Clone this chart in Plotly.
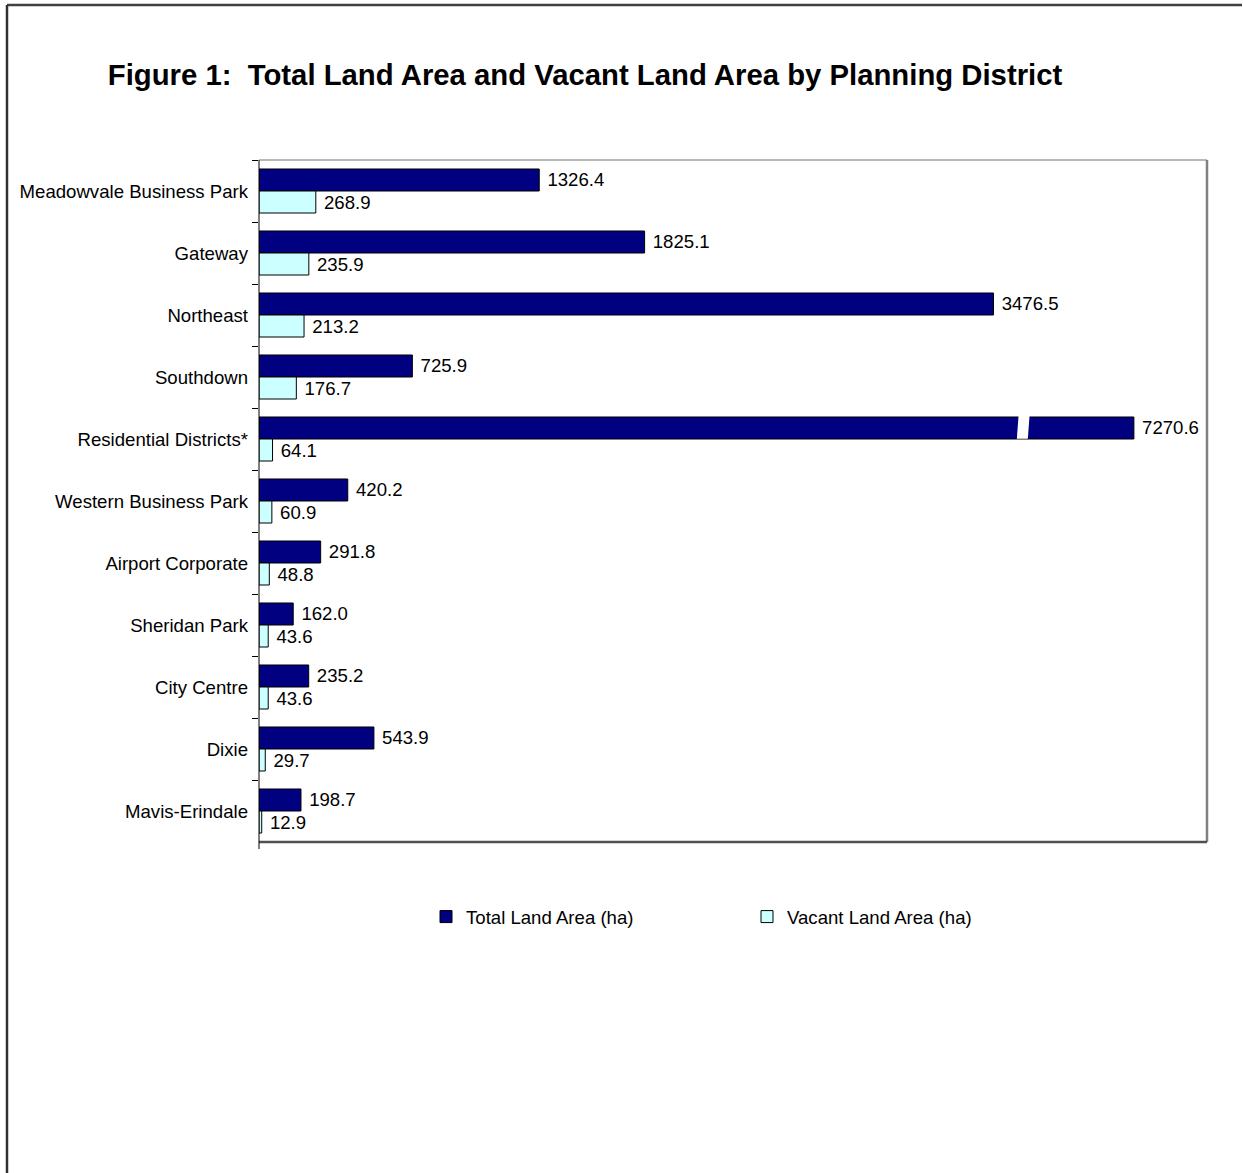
import plotly.graph_objects as go

# ---------------- data ----------------
categories = ["Meadowvale Business Park", "Gateway", "Northeast", "Southdown",
              "Residential Districts*", "Western Business Park", "Airport Corporate",
              "Sheridan Park", "City Centre", "Dixie", "Mavis-Erindale"]
total_land = [1326.4, 1825.1, 3476.5, 725.9, 7270.6, 420.2, 291.8, 162.0, 235.2, 543.9, 198.7]
vacant_land = [268.9, 235.9, 213.2, 176.7, 64.1, 60.9, 48.8, 43.6, 43.6, 29.7, 12.9]
series_names = ["Total Land Area (ha)", "Vacant Land Area (ha)"]
title_text = "Figure 1:  Total Land Area and Vacant Land Area by Planning District"

# ---------------- style / layout constants ----------------
W, H = 1243, 1173
PL, PR, PT, PB = 259, 1207, 160, 842      # plot area in pixels
X_MAX = 4487                               # axis range maximum
BREAK_CAP = 4141                           # bars longer than this are drawn broken
BREAK_OFFSET = 554                         # distance of the break gap from the cap
BREAK_GAP = 52
BREAK_SLANT = 9
FONT = "Liberation Sans, Arial, sans-serif"
FS = 18.6
NAVY = "#000080"
CYAN = "#CCFFFF"

total_display = [min(v, BREAK_CAP) for v in total_land]

def px_x(p):
    return (p - PL) / (PR - PL)

def px_y(p):
    return (PB - p) / (PB - PT)

fig = go.Figure()
fig.add_trace(go.Bar(
    y=categories, x=total_display, orientation="h", name=series_names[0],
    marker=dict(color=NAVY, line=dict(color="black", width=1)),
    text=[f" {v:.1f}" for v in total_land], textposition="outside",
    textfont=dict(size=FS, color="black", family=FONT), cliponaxis=False,
    constraintext="none", hoverinfo="skip"))
fig.add_trace(go.Bar(
    y=categories, x=vacant_land, orientation="h", name=series_names[1],
    marker=dict(color=CYAN, line=dict(color="black", width=1)),
    text=[f" {v:.1f}" for v in vacant_land], textposition="outside",
    textfont=dict(size=FS, color="black", family=FONT), cliponaxis=False,
    constraintext="none", hoverinfo="skip"))

shapes = []
# axis break on the long bar(s)
for i, v in enumerate(total_land):
    if v > BREAK_CAP:
        x0 = BREAK_CAP - BREAK_OFFSET
        yt, yb = i - 0.42, i - 0.005
        shapes.append(dict(
            type="path", xref="x", yref="y",
            path=f"M {x0 + BREAK_SLANT},{yt} L {x0 + BREAK_SLANT + BREAK_GAP},{yt} "
                 f"L {x0 + BREAK_GAP},{yb} L {x0},{yb} Z",
            fillcolor="white", line=dict(width=0), layer="above"))

# plot area frame
shapes += [
    dict(type="line", xref="paper", yref="paper", x0=0, x1=1, y0=1, y1=1,
         line=dict(color="#A0A0A0", width=1.5)),
    dict(type="line", xref="paper", yref="paper", x0=1, x1=1, y0=0, y1=1,
         line=dict(color="#808080", width=2.5)),
    dict(type="line", xref="paper", yref="paper", x0=0, x1=1, y0=0, y1=0,
         line=dict(color="#505050", width=2.5)),
    dict(type="line", xref="paper", yref="paper", x0=0, x1=0, y0=px_y(849), y1=1,
         line=dict(color="black", width=1)),
]
# page border (top and left)
shapes += [
    dict(type="line", xref="paper", yref="paper", x0=px_x(7), x1=px_x(1242),
         y0=px_y(5), y1=px_y(5), line=dict(color="#404040", width=2.5)),
    dict(type="line", xref="paper", yref="paper", x0=px_x(7), x1=px_x(7),
         y0=px_y(5), y1=px_y(1173), line=dict(color="#303030", width=2.5)),
]

fig.update_layout(
    width=W, height=H,
    margin=dict(l=PL, r=W - PR, t=PT, b=H - PB, pad=0),
    paper_bgcolor="white", plot_bgcolor="white",
    barmode="group", bargap=0.29, bargroupgap=0,
    font=dict(family=FONT, size=FS, color="black"),
    title=dict(text=f"<b>{title_text}</b>", x=585 / W, xref="container",
               xanchor="center", y=1 - 75 / H, yanchor="middle",
               font=dict(size=29.3, family=FONT, color="black")),
    showlegend=True,
    legend=dict(orientation="h", x=px_x(426), xanchor="left", y=px_y(917), yanchor="middle",
                font=dict(size=FS, family=FONT), entrywidth=276, traceorder="normal",
                itemclick=False, itemdoubleclick=False, bgcolor="rgba(0,0,0,0)"),
    xaxis=dict(range=[0, X_MAX], showgrid=False, zeroline=False, showticklabels=False,
               ticks="", showline=False, fixedrange=True),
    yaxis=dict(categoryorder="array", categoryarray=categories, autorange="reversed",
               tickson="boundaries", ticks="outside", ticklen=6, tickcolor="black",
               showgrid=False, zeroline=False, showline=False, ticklabelstandoff=10,
               tickfont=dict(size=FS, family=FONT), fixedrange=True),
    shapes=shapes,
)

fig.write_html("out.html")
